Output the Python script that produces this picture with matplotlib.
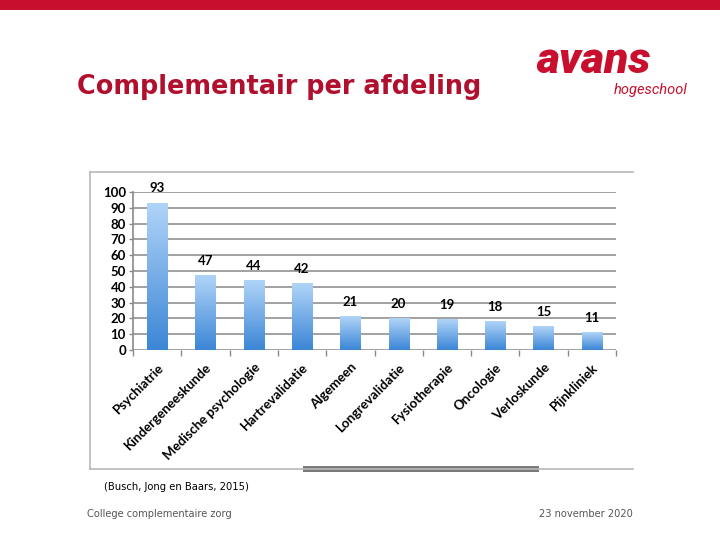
import matplotlib
matplotlib.use("Agg")
import matplotlib.pyplot as plt
import numpy as np
from matplotlib.lines import Line2D
from matplotlib.patches import Rectangle

# data
afdelingen = ["Psychiatrie", "Kindergeneeskunde", "Medische psychologie",
              "Hartrevalidatie", "Algemeen", "Longrevalidatie", "Fysiotherapie",
              "Oncologie", "Verloskunde", "Pijnkliniek"]
aantallen = [93, 47, 44, 42, 21, 20, 19, 18, 15, 11]
y_ticks = [0, 10, 20, 30, 40, 50, 60, 70, 80, 90, 100]

W, H = 720, 540
red = "#c8102e"
title_red = "#b0102e"


def fx(px):
    return px / W


def fy(py):
    return 1 - py / H


fig = plt.figure(figsize=(7.2, 5.4), dpi=100)

# red band on top of the slide
fig.add_artist(Rectangle((0, fy(10)), 1, 10 / H, transform=fig.transFigure,
                         color=red, lw=0))

fig.text(fx(77), fy(87), "Complementair per afdeling", fontsize=18.4,
         fontweight="bold", color=title_red, family="DejaVu Sans",
         va="center", ha="left")

# logo
fig.text(fx(651), fy(73), "avans", fontsize=32, fontweight="heavy",
         style="italic", color=red, family="Roboto", ha="right", va="baseline")
fig.text(fx(688), fy(94), "hogeschool", fontsize=10.5, style="italic",
         color=red, family="Roboto", ha="right", va="baseline")

# frame of the pasted chart picture
frame_c = "#b8b8b8"
fig.add_artist(Line2D([fx(90), fx(633)], [fy(172), fy(172)], color=frame_c, lw=1.2))
fig.add_artist(Line2D([fx(90), fx(90)], [fy(172), fy(469)], color=frame_c, lw=1.2))
fig.add_artist(Line2D([fx(90), fx(633)], [fy(469), fy(469)], color=frame_c, lw=1.2))
fig.add_artist(Rectangle((fx(303), fy(472)), fx(236), 6 / H,
                         transform=fig.transFigure, color="#7a7a7a", lw=0))

# chart
ax = fig.add_axes([fx(133), fy(350), fx(483), (350 - 192) / H])
x = np.arange(len(afdelingen))

grad = np.linspace(1, 0, 100).reshape(-1, 1)
cmap = matplotlib.colors.LinearSegmentedColormap.from_list("bl", ["#3b86d6", "#b0d4f8"])
bw = 0.42
for xi, v in zip(x, aantallen):
    ax.imshow(grad, extent=(xi - bw / 2, xi + bw / 2, 0, v), aspect="auto",
              cmap=cmap, origin="upper", zorder=3)
    ax.text(xi, v + 5.5, str(v), ha="center", va="bottom", fontsize=9.5,
            fontweight="bold", family="Lato", clip_on=False, zorder=4)

ax.set_xlim(-0.5, len(afdelingen) - 0.5)
ax.set_ylim(0, 100)
ax.set_yticks(y_ticks)
ax.yaxis.grid(True, color="#9a9a9a", lw=1.3)
ax.set_axisbelow(True)
for s in ["top", "right", "bottom"]:
    ax.spines[s].set_visible(False)
ax.spines["left"].set_color("#8a8a8a")
ax.spines["left"].set_linewidth(1.2)
ax.tick_params(axis="y", length=3, width=1, color="#8a8a8a", pad=2)
for lab in ax.get_yticklabels():
    lab.set_fontweight("bold")
    lab.set_family("Lato")
    lab.set_fontsize(9.5)

ax.set_xticks(np.arange(len(afdelingen) + 1) - 0.5, minor=True)
ax.set_xticks(x)
ax.set_xticklabels(afdelingen, rotation=45, ha="right", va="top",
                   rotation_mode="anchor", fontsize=9.5, fontweight="bold",
                   family="Lato")
ax.tick_params(axis="x", which="major", length=0, pad=8)
ax.tick_params(axis="x", which="minor", length=4, width=1, color="#8a8a8a")

# texts under the chart
fig.text(fx(104), fy(487), "(Busch, Jong en Baars, 2015)", fontsize=7.2,
         color="black", family="DejaVu Sans", va="center")
fig.text(fx(87), fy(514), "College complementaire zorg", fontsize=7.1,
         color="#555555", family="DejaVu Sans", va="center")
fig.text(fx(633), fy(514), "23 november 2020", fontsize=7.1,
         color="#555555", family="DejaVu Sans", va="center", ha="right")

fig.savefig("out.png", dpi=100)
